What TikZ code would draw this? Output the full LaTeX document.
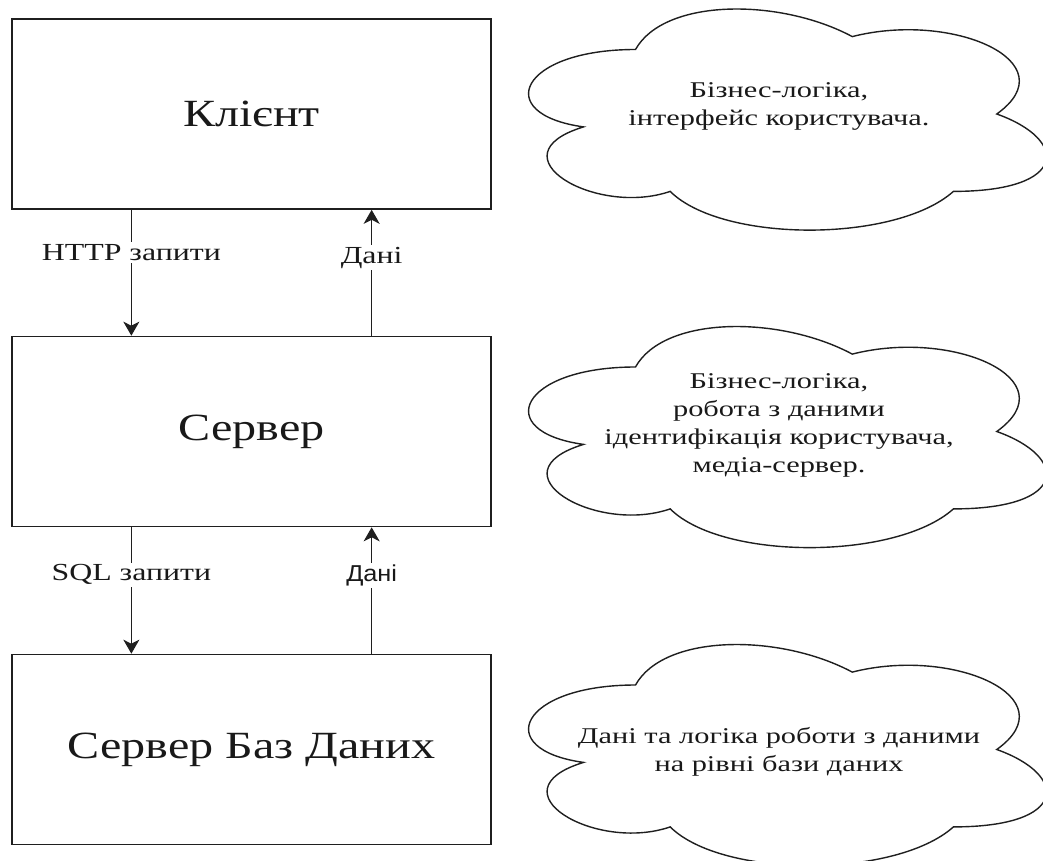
\documentclass[tikz,border=0pt]{standalone}
\usepackage{fontspec}
\setmainfont{Liberation Serif}
\newfontfamily\tierfont[FakeStretch=1.25]{Liberation Serif}
\newfontfamily\notefont[FakeStretch=1.35]{Liberation Serif}
\newfontfamily\flowfont[FakeStretch=1.3]{Liberation Serif}
\newfontfamily\flowsans[FakeStretch=1.1]{Liberation Sans}
\usetikzlibrary{arrows.meta,calc}

\tikzset{
  tier/.style={draw=black!88, line width=1.6pt, minimum width=479pt, minimum height=190pt,
    inner sep=0pt, text=black!90, font=\tierfont\fontsize{38.5}{44}\selectfont},
  flow/.style={draw=black!88, line width=1.5pt,
    -{Stealth[length=14pt,width=16pt,inset=4pt]}},
  flowlabel/.style={fill=white, inner sep=2pt, text=black!90,
    font=\flowfont\fontsize{24.5}{28}\selectfont},
  note/.style={align=center, inner sep=0pt, text=black!90,
    font=\notefont\fontsize{22.5}{28}\selectfont},
  cloudshape/.pic={
    \draw[draw=black!88, line width=1.4pt]
      (0.25,0.25) .. controls (0.05,0.25) and (0,0.5) .. (0.16,0.55)
      .. controls (0,0.66) and (0.18,0.9) .. (0.31,0.8)
      .. controls (0.4,1) and (0.7,1) .. (0.8,0.8)
      .. controls (1,0.8) and (1,0.6) .. (0.875,0.5)
      .. controls (1,0.3) and (0.8,0.1) .. (0.625,0.2)
      .. controls (0.5,0.05) and (0.3,0.05) .. (0.25,0.25) -- cycle;
  }
}

\begin{document}
\begin{tikzpicture}[x=1pt,y=-1pt]
  \useasboundingbox (0,0) rectangle (1043,861);
  \clip (0,0) rectangle (1043,861);

  % three tiers
  \node[tier] (client) at (251.5,114) {Клієнт};
  \node[tier] (server) at (251.5,431.5) {Сервер};
  \node[tier] (db)     at (251.5,749.5) {Сервер Баз Даних};

  % requests down, data up
  \draw[flow] ($(client.south west)!.25!(client.south east)$)
    -- node[flowlabel, pos=.34] (http) {HTTP запити}
    ($(server.north west)!.25!(server.north east)$);
  \draw[flow] ($(server.north west)!.75!(server.north east)$)
    -- node[flowlabel, pos=.62] (data1) {Дані}
    ($(client.south west)!.75!(client.south east)$);
  \draw[flow] ($(server.south west)!.25!(server.south east)$)
    -- node[flowlabel, pos=.375] (sql) {SQL запити}
    ($(db.north west)!.25!(db.north east)$);
  \draw[flow] ($(db.north west)!.75!(db.north east)$)
    -- node[flowlabel, pos=.62, font=\flowsans\fontsize{23}{28}\selectfont] (data2) {Дані}
    ($(server.south west)!.75!(server.south east)$);

  % responsibility clouds
  \begin{scope}[shift={(491,-15)}]
    \pic[x=578pt,y=-258pt] {cloudshape};
  \end{scope}
  \begin{scope}[shift={(491,302.5)}]
    \pic[x=578pt,y=-258pt] {cloudshape};
  \end{scope}
  \begin{scope}[shift={(491,620.5)}]
    \pic[x=578pt,y=-258pt] {cloudshape};
  \end{scope}

  \node[note] (noteclient) at (779,106) {Бізнес-логіка,\\інтерфейс користувача.};
  \node[note] (noteserver) at (779,425) {Бізнес-логіка,\\робота з даними\\ідентифікація користувача,\\медіа-сервер.};
  \node[note] (notedb) at (779,752) {Дані та логіка роботи з даними\\на рівні бази даних};
\end{tikzpicture}
\end{document}
